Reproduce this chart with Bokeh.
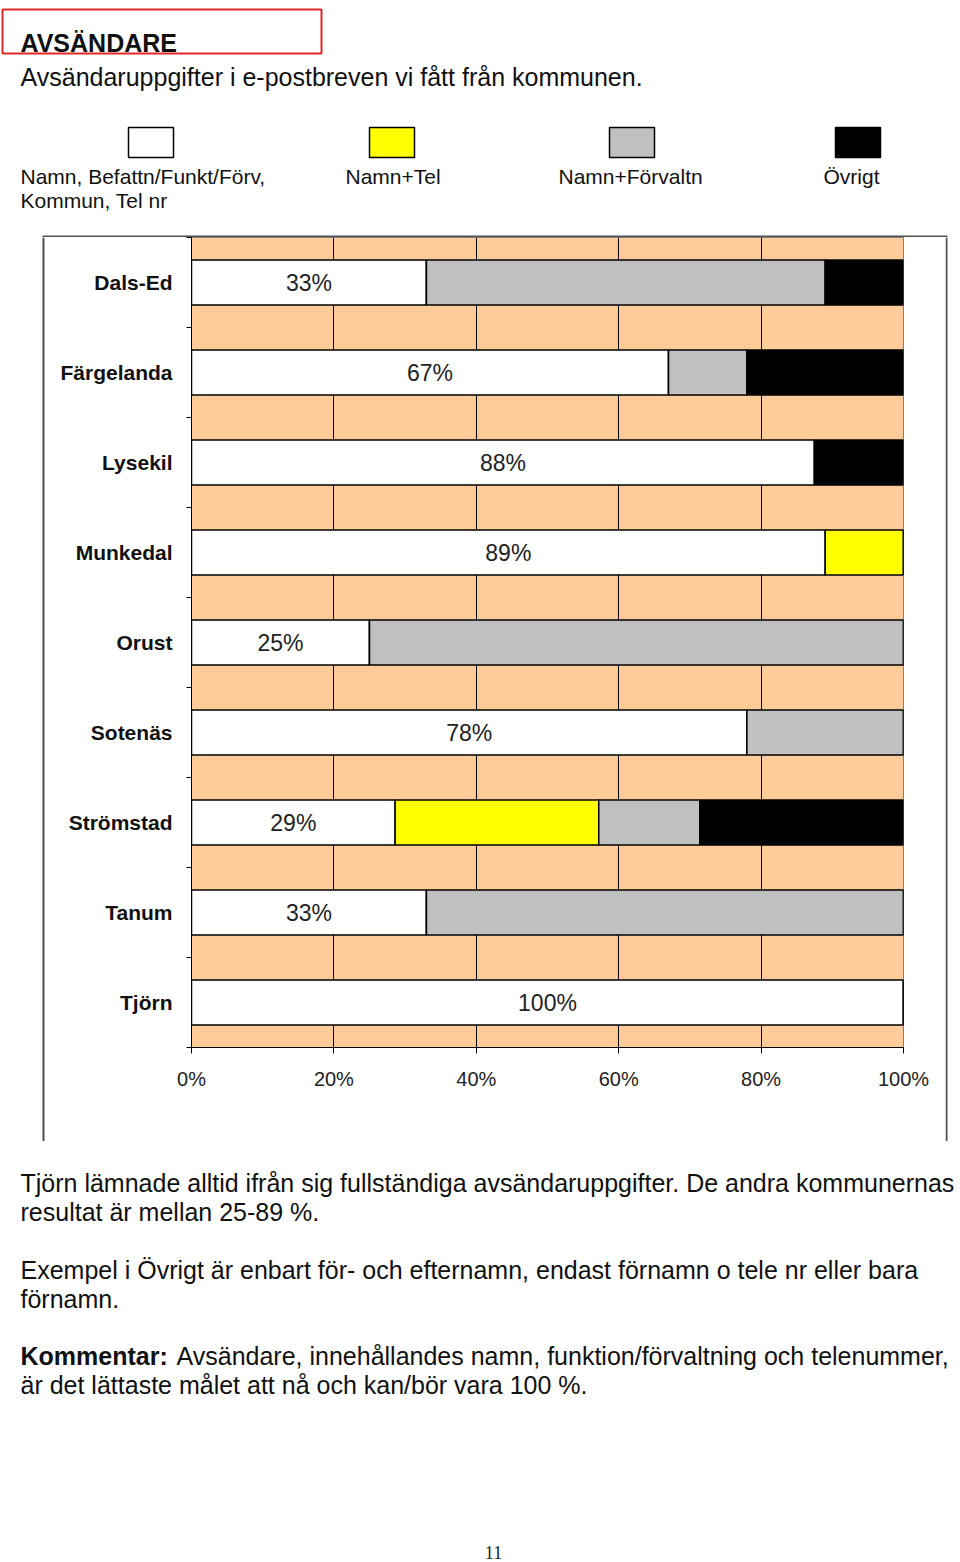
from bokeh.plotting import figure
from bokeh.models import (Range1d, FixedTicker, ColumnDataSource, LabelSet, Label, BoxAnnotation)
from bokeh.layouts import column, row
from bokeh.core.properties import value
from bokeh.embed import file_html
from bokeh.resources import INLINE

# ---------------- data ----------------
cats = ["Dals-Ed", "Färgelanda", "Lysekil", "Munkedal", "Orust",
        "Sotenäs", "Strömstad", "Tanum", "Tjörn"]
full_info = [33, 67, 87.5, 89, 25, 78, 28.6, 33, 100]   # Namn, Befattn/Funkt/Förv, Kommun, Tel nr
namn_tel = [0, 0, 0, 11, 0, 0, 28.6, 0, 0]              # Namn+Tel
namn_forv = [56, 11, 0, 0, 75, 22, 14.2, 67, 0]          # Namn+Förvaltn
ovrigt = [11, 22, 12.5, 0, 0, 0, 28.6, 0, 0]             # Övrigt

series_keys = ["full", "tel", "forv", "ovr"]
series_colors = ["#FFFFFF", "#FFFF00", "#C0C0C0", "#000000"]
legend_lines = [["Namn, Befattn/Funkt/Förv,", "Kommun, Tel nr"], ["Namn+Tel"],
                ["Namn+Förvaltn"], ["Övrigt"]]
x_ticks = [0, 20, 40, 60, 80, 100]
x_tick_labels = ["0%", "20%", "40%", "60%", "80%", "100%"]

title_text = "AVSÄNDARE"
subtitle_text = "Avsändaruppgifter i e-postbreven vi fått från kommunen."
body_lines = [
    "Tjörn lämnade alltid ifrån sig fullständiga avsändaruppgifter. De andra kommunernas",
    "resultat är mellan 25-89 %.",
    "Exempel i Övrigt är enbart för- och efternamn, endast förnamn o tele nr eller bara",
    "förnamn.",
]
comment_bold = "Kommentar:"
comment_lines = ["Avsändare, innehållandes namn, funktion/förvaltning och telenummer,",
                 "är det lättaste målet att nå och kan/bör vara 100 %."]
page_number = "11"

FONT = "Liberation Sans"
BORDER = "#505050"
n = len(cats)
pos = list(range(n))


def blank_fig(w, h, xr, yr):
    f = figure(width=w, height=h, x_range=Range1d(*xr), y_range=Range1d(*yr),
               output_backend="svg", toolbar_location=None,
               x_axis_location=None, y_axis_location=None, frame_align=False,
               min_border=0, min_border_left=0, min_border_right=0,
               min_border_top=0, min_border_bottom=0)
    f.grid.visible = False
    f.outline_line_color = None
    f.background_fill_color = "white"
    f.border_fill_color = "white"
    return f


def add_label(f, x, y, text, size_px, style="normal", font=FONT, align="left", color="#111111"):
    # y is the wanted baseline; Bokeh's alphabetic placement sits ~0.4 em low here
    f.add_layout(Label(x=x, y=y - round(0.4 * size_px), text=text, text_font=font,
                       text_font_size=f"{size_px}px", text_font_style=style, text_align=align,
                       text_baseline="alphabetic", text_color=color))


def add_box(f, left, right, top, bottom, fill, line=None, lw=1):
    f.add_layout(BoxAnnotation(left=left, right=right, top=top, bottom=bottom,
                               fill_color=fill if fill else "white", fill_alpha=1 if fill else 0,
                               line_color=line if line else "black", line_width=lw,
                               line_alpha=1 if line else 0))


# ---------------- top: title + legend (page rows 0..237) ----------------
top = blank_fig(960, 237, (0, 960), (237, 0))
add_box(top, 2, 321, 9, 53, None, "#E02828", 2)
add_label(top, 20, 52, title_text, 25, "bold")
add_label(top, 20, 86, subtitle_text, 25)
sq_left = [128, 369, 609, 835]
txt_left = [20, 345, 558, 823]
for sl, tl, col, lines in zip(sq_left, txt_left, series_colors, legend_lines):
    add_box(top, sl, sl + 45, 127, 157, col, "black", 1.5)
    for i, ln in enumerate(lines):
        add_label(top, tl, 184 + 24 * i, ln, 21)
add_box(top, 42, 947, 235, 237, BORDER)

# ---------------- chart row (page rows 237..1141) ----------------
left_edge = blank_fig(50, 904, (0, 50), (904, 0))
add_box(left_edge, 42, 44, 0, 904, BORDER)
right_edge = blank_fig(15, 904, (945, 960), (904, 0))
add_box(right_edge, 945, 947, 0, 904, BORDER)

p = figure(width=895, height=904,
           x_range=Range1d(0, 100), y_range=Range1d(n - 0.5, -0.5),
           output_backend="svg", toolbar_location=None, frame_align=False,
           min_border_left=141, min_border_right=42, min_border_top=0, min_border_bottom=94)
p.background_fill_color = "#FFCC99"
p.border_fill_color = "white"
p.outline_line_color = "#808080"

src = ColumnDataSource(dict(pos=pos, full=full_info, tel=namn_tel, forv=namn_forv, ovr=ovrigt))
p.hbar_stack(series_keys, y="pos", height=0.5, fill_color=series_colors,
             line_color="black", line_width=1.5, source=src)

lab_src = ColumnDataSource(dict(x=[v / 2 for v in full_info], y=pos,
                                text=[f"{round(v)}%" for v in full_info]))
p.add_layout(LabelSet(x="x", y="y", text="text", source=lab_src, text_align="center",
                      text_baseline="middle", text_font=value(FONT), text_font_size=value("23px"),
                      text_color="#222222"))

xa = p.xaxis[0]
xa.ticker = FixedTicker(ticks=x_ticks)
xa.major_label_overrides = {t: l for t, l in zip(x_ticks, x_tick_labels)}
xa.major_tick_in = 0
xa.major_tick_out = 6
xa.minor_tick_line_color = None
xa.axis_line_color = "black"
xa.major_tick_line_color = "black"
xa.major_label_text_font = FONT
xa.major_label_text_font_size = "20px"
xa.major_label_text_color = "#222222"
xa.major_label_standoff = 14

ya = p.yaxis[0]
ya.ticker = FixedTicker(ticks=pos, minor_ticks=[i - 0.5 for i in range(n + 1)])
ya.major_label_overrides = {i: c for i, c in zip(pos, cats)}
ya.major_tick_line_color = None
ya.major_tick_in = 0
ya.major_tick_out = 0
ya.minor_tick_in = 0
ya.minor_tick_out = 5
ya.minor_tick_line_color = "black"
ya.axis_line_color = "black"
ya.major_label_text_font = FONT
ya.major_label_text_font_size = "21px"
ya.major_label_text_font_style = "bold"
ya.major_label_text_color = "#111111"
ya.major_label_standoff = 14

p.xgrid.ticker = FixedTicker(ticks=x_ticks)
p.xgrid.grid_line_color = "black"
p.xgrid.grid_line_width = 1
p.ygrid.visible = False

# ---------------- bottom text (page rows 1141..1562) ----------------
bottom = blank_fig(960, 421, (0, 960), (1562, 1141))
body_y = [1192, 1221, 1279, 1308]
for y, t in zip(body_y, body_lines):
    add_label(bottom, 20, y, t, 25)
add_label(bottom, 20, 1365, comment_bold, 25, "bold")
add_label(bottom, 176, 1365, comment_lines[0], 25)
add_label(bottom, 20, 1394, comment_lines[1], 25)
add_label(bottom, 493, 1559, page_number, 18, font="Liberation Serif", align="center",
          color="#222222")

page = column(top, row(left_edge, p, right_edge, spacing=0), bottom, spacing=0)

html = file_html(page, INLINE)
open("out.html", "w").write(html)
